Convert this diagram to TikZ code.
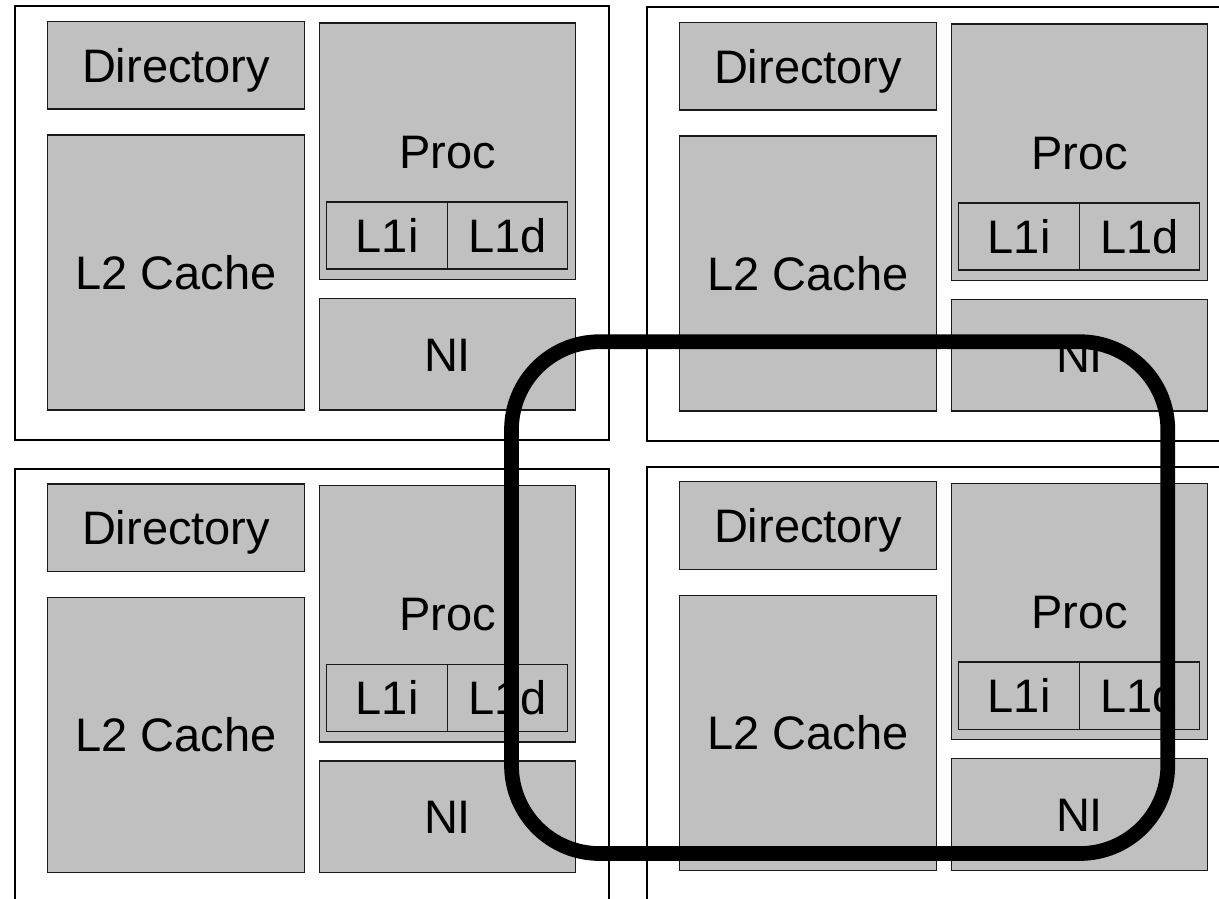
\documentclass[tikz,border=0pt]{standalone}
\usepackage{fontspec}
\setmainfont{Liberation Sans}
\definecolor{boxgray}{HTML}{C0C0C0}
\definecolor{edge}{HTML}{1A1A1A}
\tikzset{
  cell/.style={draw=edge, fill=boxgray, line width=1.4pt, inner sep=0pt, anchor=north west,
    font=\fontsize{47}{56}\selectfont, text height=33.8pt, text depth=0pt},
  tilebox/.style={draw=black, line width=2pt, inner sep=0pt, anchor=north west},
  ring/.style={draw=black, line width=14.7pt, rounded corners=88pt, inner sep=0pt}
}
\newcommand\chiptile[3]{%
  \begin{scope}[shift={(#2,#3)}]
    \node[tilebox, minimum width=593.5pt, minimum height=434pt] (#1-tile) at (-32.9,-15.5) {};
    \node[cell, minimum width=256.7pt, minimum height=87.5pt] (#1-dir) at (0,0) {Directory};
    \node[cell, minimum width=256.7pt, minimum height=275pt] (#1-l2) at (0,113.5) {L2 Cache};
    \node[cell, minimum width=256.3pt, minimum height=256.1pt] (#1-proc) at (271.7,1.7) {Proc};
    \node[cell, minimum width=121pt, minimum height=67.3pt] (#1-l1i) at (279,180.4) {L1i};
    \node[cell, minimum width=120pt, minimum height=67.3pt] (#1-l1d) at (400,180.4) {L1d};
    \node[cell, minimum width=256.3pt, minimum height=111.5pt] (#1-ni) at (271.7,277) {NI};
  \end{scope}}
\begin{document}
\begin{tikzpicture}[x=1pt,y=-1pt]
  \useasboundingbox (0,0) rectangle (1219,898);
  \fill[white] (0,0) rectangle (1219,898);
  \begin{scope}
    \clip (0,0) rectangle (1219,898);
    \chiptile{tl}{47}{20.7}
    \chiptile{tr}{679}{21.7}
    \chiptile{bl}{47}{483.3}
    \chiptile{br}{679}{481}
    \node[ring, minimum width=656.3pt, minimum height=511.8pt] (net) at (839.65,597.6) {};
  \end{scope}
\end{tikzpicture}
\end{document}
